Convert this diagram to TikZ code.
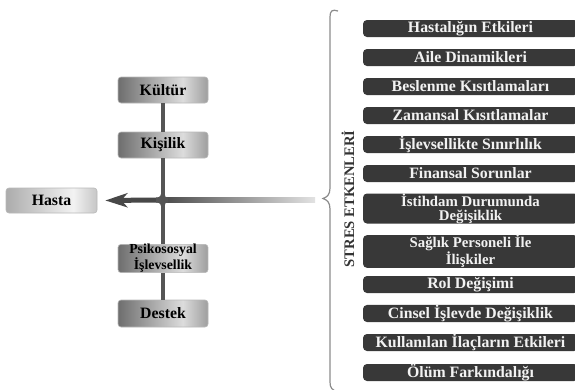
\documentclass[tikz,border=0pt]{standalone}
\usepackage{fontspec}
\setmainfont{Liberation Serif}
\usetikzlibrary{arrows.meta}
\definecolor{ldk}{HTML}{6E6E6E}
\definecolor{llt}{HTML}{DCDCDC}
\definecolor{lrt}{HTML}{9E9E9E}
\definecolor{hdk}{HTML}{ACACAC}
\definecolor{hlt}{HTML}{F2F2F2}
\definecolor{hrt}{HTML}{C6C6C6}
\definecolor{boxdark}{HTML}{383838}
\definecolor{bardark}{HTML}{484848}
\definecolor{barlight}{HTML}{E2E2E2}
\definecolor{linegray}{HTML}{555555}
\definecolor{bracegray}{HTML}{8C8C8C}
\pgfdeclarehorizontalshading{lboxsh}{100bp}{color(0bp)=(ldk); color(25bp)=(ldk); color(61bp)=(llt); color(75bp)=(lrt); color(100bp)=(lrt)}
\pgfdeclarehorizontalshading{hboxsh}{100bp}{color(0bp)=(hdk); color(25bp)=(hdk); color(62bp)=(hlt); color(75bp)=(hrt); color(100bp)=(hrt)}
\begin{document}
\begin{tikzpicture}[x=1pt,y=-1pt,
  lbox/.style={rectangle, rounded corners=3pt, shading=lboxsh, draw=gray!55, line width=0.6pt,
    minimum width=90pt, inner sep=0pt, align=center, text=black,
    font=\bfseries\fontsize{15.8}{11}\selectfont},
  hbox/.style={lbox, shading=hboxsh},
  rbox/.style={rectangle, rounded corners=4pt, fill=boxdark, minimum width=215pt, inner sep=0pt,
    align=center, text=white!95!black, font=\bfseries\fontsize{15.8}{11}\selectfont},
  rbox2/.style={rbox, minimum height=30pt, font=\bfseries\fontsize{14.8}{14}\selectfont},
  vline/.style={draw=linegray, line width=3.5pt},
]
\clip (0,0) rectangle (575,389);
\fill[white] (0,0) rectangle (575,389);
% left boxes
\node[lbox, minimum height=26pt] (kul) at (163,90) {Kültür};
\node[lbox, minimum height=26pt] (kis) at (163,145) {Kişilik};
\node[lbox, minimum height=28pt, font=\bfseries\fontsize{13.8}{12}\selectfont] (psi) at (163,258.5) {Psikososyal\\İşlevsellik};
\node[lbox, minimum height=27pt] (des) at (163,313.5) {Destek};
\node[hbox, minimum width=91pt, minimum height=25pt] (has) at (51.5,200.5) {Hasta};
% horizontal gradient bar
\coordinate (jn) at (163,200);
\coordinate (barR) at (315,200);
\shade[left color=bardark, right color=barlight] (160,197.5) rectangle (315,202.5);
\draw[draw=bardark, line width=5pt, -{Stealth[length=22pt,width=14pt,inset=6pt]}, shorten >=8pt] (jn) -- (has.east);
% vertical connectors
\draw[vline] (kul.south) -- (kis.north);
\draw[vline] (kis.south) -- (psi.north);
\draw[vline] (psi.south) -- (des.north);
% junction fillets
\fill[linegray] (161.25,191) .. controls (161.25,196) and (160,197.5) .. (156,197.5) -- (156,202.5) .. controls (160,202.5) and (161.25,204) .. (161.25,209) -- cycle;
\fill[linegray] (164.75,194) .. controls (164.75,196.8) and (165.5,197.5) .. (168,197.5) -- (168,202.5) .. controls (165.5,202.5) and (164.75,203.2) .. (164.75,206) -- cycle;
% brace
\draw[bracegray, line width=1.2pt] (338,11) .. controls (332,9) and (330,11) .. (330,17) -- (330,188)
  .. controls (330,195) and (327,197) .. (323,198.5) .. controls (327,200) and (330,202) .. (330,209)
  -- (330,382) .. controls (330,388) and (332,390) .. (338,392);
\node[rotate=90, text=black!80, font=\bfseries\fontsize{14.6}{14}\selectfont, inner sep=0pt] (stres) at (348,199) {STRES ETKENLERİ};
% right boxes
\node[rbox, minimum height=17pt] (r1) at (470.5,28.5) {Hastalığın Etkileri};
\node[rbox, minimum height=17pt] (r2) at (470.5,57.5) {Aile Dinamikleri};
\node[rbox, minimum height=17pt] (r3) at (470.5,86.5) {Beslenme Kısıtlamaları};
\node[rbox, minimum height=17pt] (r4) at (470.5,115.5) {Zamansal Kısıtlamalar};
\node[rbox, minimum height=17pt] (r5) at (470.5,144.5) {İşlevsellikte Sınırlılık};
\node[rbox, minimum height=17pt] (r6) at (470.5,173.5) {Finansal Sorunlar};
\node[rbox2] (r7) at (470.5,208.5) {İstihdam Durumunda\\Değişiklik};
\node[rbox2] (r8) at (470.5,251.5) {Sağlık Personeli İle\\İlişkiler};
\node[rbox, minimum height=17pt] (r9) at (470.5,284.5) {Rol Değişimi};
\node[rbox, minimum height=17pt] (r10) at (470.5,313.5) {Cinsel İşlevde Değişiklik};
\node[rbox, minimum height=17pt] (r11) at (470.5,342.5) {Kullanılan İlaçların Etkileri};
\node[rbox, minimum height=17pt] (r12) at (470.5,372.5) {Ölüm Farkındalığı};
\end{tikzpicture}
\end{document}
